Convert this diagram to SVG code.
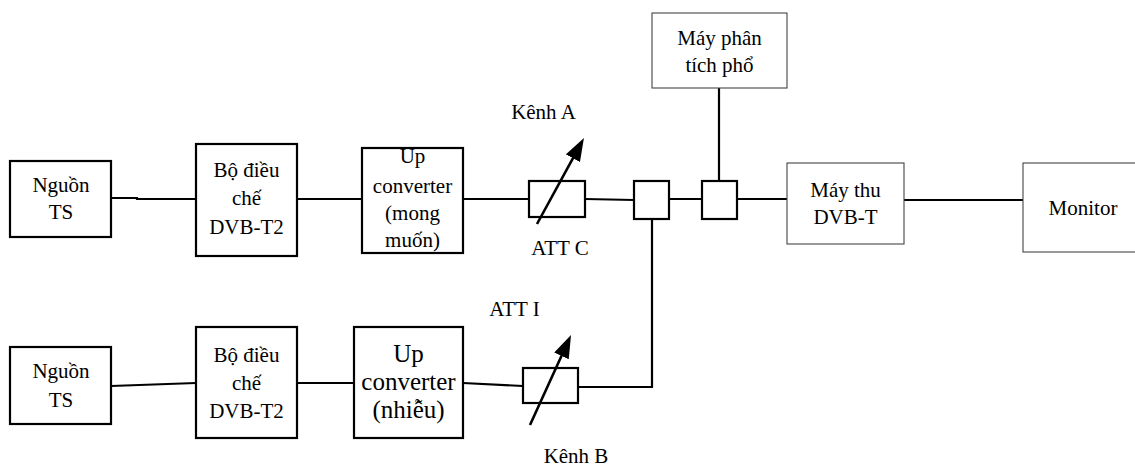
<svg xmlns="http://www.w3.org/2000/svg" width="1135" height="467" viewBox="0 0 1135 467">
<defs>
<style>
.bk{fill:#fff;stroke:#000;stroke-width:2.2}
.tn{fill:#fff;stroke:#444;stroke-width:1.1}
.ln{fill:none;stroke:#000;stroke-width:2.2}
.ar{fill:none;stroke:#000;stroke-width:2.6}
text{font-family:"Liberation Serif","Times New Roman",serif;font-size:21px;fill:#000;text-anchor:middle}
.big{font-size:25px}
</style>
<marker id="ah" markerUnits="userSpaceOnUse" markerWidth="24" markerHeight="18" refX="1" refY="8" orient="auto">
<path d="M0,0 L23,8 L0,16 z" fill="#000"/>
</marker>
</defs>
<rect width="1135" height="467" fill="#fff"/>
<g id="connectors">
<polyline class="ln" points="111,198 137,198 137,199 196,199"/>
<line class="ln" x1="297" y1="199" x2="362" y2="199"/>
<line class="ln" x1="463" y1="199" x2="529" y2="199"/>
<line class="ln" x1="585" y1="199" x2="634" y2="200"/>
<line class="ln" x1="669" y1="199" x2="702" y2="199"/>
<line class="ln" x1="737" y1="199" x2="787" y2="199"/>
<line class="ln" x1="719" y1="88" x2="719" y2="181"/>
<line class="ln" x1="904" y1="200" x2="1023" y2="200"/>
<line class="ln" x1="111" y1="386" x2="196" y2="383"/>
<line class="ln" x1="297" y1="383" x2="354" y2="383"/>
<line class="ln" x1="463" y1="383" x2="523" y2="386"/>
<polyline class="ln" points="578,387 652,387 652,219"/>
</g>
<g id="nguon-ts-a"><rect class="bk" x="10" y="161" width="101" height="76"/><text x="61" y="192">Nguồn</text><text x="61" y="219">TS</text></g>
<g id="dieu-che-a"><rect class="bk" x="196" y="144" width="101" height="112"/><text x="246.5" y="177">Bộ điều</text><text x="246.5" y="205">chế</text><text x="246.5" y="234">DVB-T2</text></g>
<g id="upconv-a"><rect class="bk" x="362" y="148" width="101" height="105"/><text x="412.5" y="163">Up</text><text x="412.5" y="193">converter</text><text x="412.5" y="220">(mong</text><text x="412.5" y="247">muốn)</text></g>
<g id="att-c"><rect class="bk" x="529" y="181" width="56" height="36"/><line class="ar" x1="537" y1="224" x2="573.4" y2="157.3" marker-end="url(#ah)"/><text x="543.5" y="119">Kênh A</text><text x="560" y="255">ATT C</text></g>
<g id="combiner"><rect class="bk" x="634" y="181" width="35" height="38"/></g>
<g id="splitter"><rect class="bk" x="702" y="181" width="35" height="38"/></g>
<g id="phan-tich-pho"><rect class="tn" x="652" y="13" width="135" height="75"/><text x="719.5" y="45">Máy phân</text><text x="719.5" y="72">tích phổ</text></g>
<g id="may-thu"><rect class="tn" x="787" y="163" width="117" height="81"/><text x="845.5" y="197">Máy thu</text><text x="845.5" y="224">DVB-T</text></g>
<g id="monitor"><rect class="tn" x="1023" y="163" width="120" height="89"/><text x="1083" y="215">Monitor</text></g>
<g id="nguon-ts-b"><rect class="bk" x="10" y="347" width="101" height="77"/><text x="61" y="378">Nguồn</text><text x="61" y="407">TS</text></g>
<g id="dieu-che-b"><rect class="bk" x="196" y="327" width="101" height="111"/><text x="246.5" y="362">Bộ điều</text><text x="246.5" y="390">chế</text><text x="246.5" y="418">DVB-T2</text></g>
<g id="upconv-b"><rect class="bk" x="354" y="327" width="109" height="111"/><text class="big" x="408.5" y="362">Up</text><text class="big" x="408.5" y="390">converter</text><text class="big" x="408.5" y="418">(nhiễu)</text></g>
<g id="att-i"><rect class="bk" x="523" y="368" width="55" height="35"/><line class="ar" x1="530" y1="425" x2="561.9" y2="355" marker-end="url(#ah)"/><text x="514.5" y="316">ATT I</text><text x="576" y="463">Kênh B</text></g>
</svg>
